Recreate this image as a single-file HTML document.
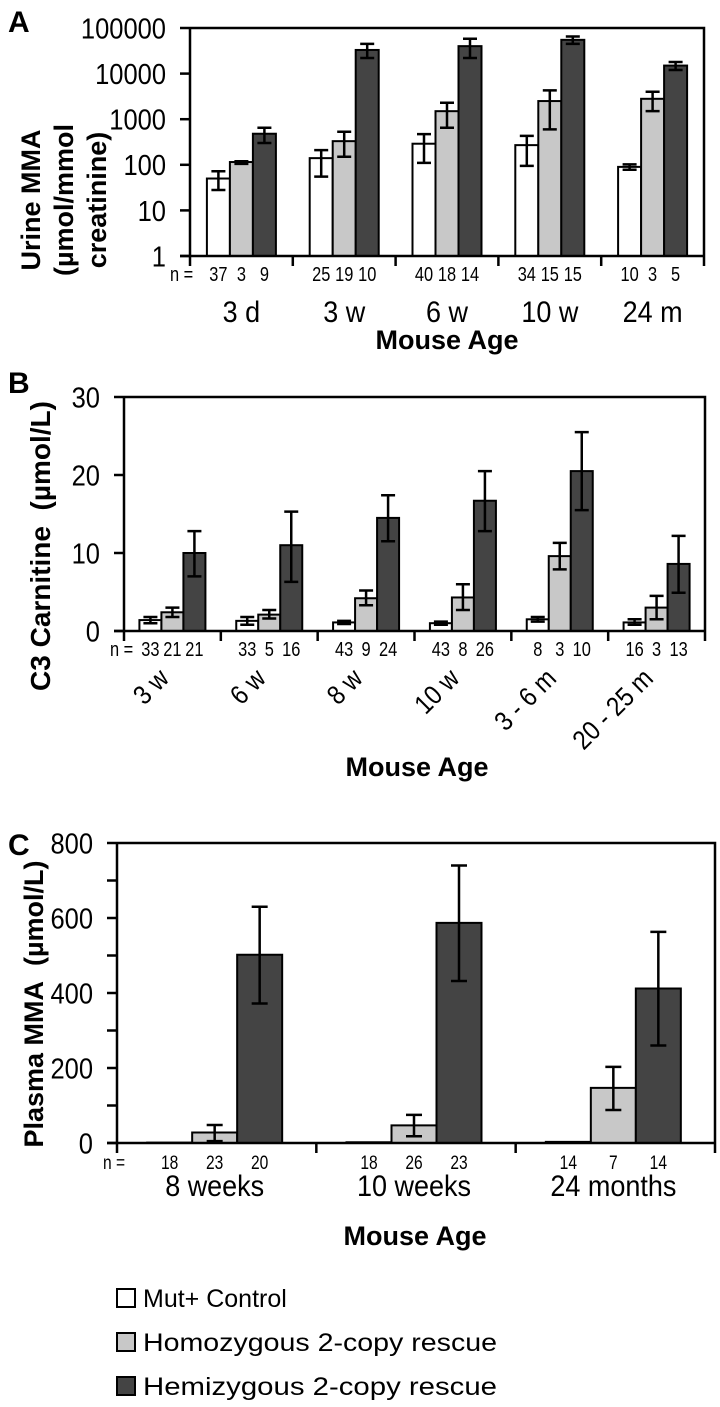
<!DOCTYPE html>
<html><head><meta charset="utf-8"><style>
html,body{margin:0;padding:0;background:#fff}
svg{display:block}
.n{font-family:"Liberation Sans",sans-serif}
.b{font-family:"Liberation Sans",sans-serif;font-weight:bold}
</style></head><body>
<svg id="fig" width="720" height="1407" viewBox="0 0 720 1407" xmlns="http://www.w3.org/2000/svg">
<g id="pa"></g>
<g id="pb"></g>
<g id="pc"></g>
<g font-family="Liberation Sans, sans-serif" font-size="25">
 <g><rect x="117" y="1289" width="18" height="18" fill="#fff" stroke="#000" stroke-width="2"/><text x="143" y="1307">Mut+ Control</text></g>
 <g><rect x="117" y="1333" width="18" height="18" fill="#c8c8c8" stroke="#000" stroke-width="2"/><text x="143" y="1351" textLength="354" lengthAdjust="spacingAndGlyphs">Homozygous 2-copy rescue</text></g>
 <g><rect x="117" y="1377" width="18" height="18" fill="#444" stroke="#000" stroke-width="2"/><text x="143" y="1395" textLength="354" lengthAdjust="spacingAndGlyphs">Hemizygous 2-copy rescue</text></g>
</g>
</svg>
<script>
const fills=['#ffffff','#c8c8c8','#444444'];
// Panel A (log scale)
const aCats=['3 d','3 w','6 w','10 w','24 m'];
const aMean=[[50,140,290,270,90],[115,330,1500,2500,2800],[480,33000,40000,55000,15000]];
const aLo=[[28,55,110,95,78],[105,150,650,600,1500],[300,22000,22000,45000,12000]];
const aHi=[[72,210,470,430,102],[120,530,2300,4300,4000],[650,45000,58000,65000,18000]];
const aN=[[37,25,40,34,10],[3,19,18,15,3],[9,10,14,15,5]];
const aTicks=[1,10,100,1000,10000,100000];
// Panel B
const bCats=['3 w','6 w','8 w','10 w','3 - 6 m','20 - 25 m'];
const bMean=[[1.4,1.3,1.1,1.0,1.5,1.1],[2.4,2.1,4.2,4.3,9.6,3.0],[10,11,14.5,16.7,20.5,8.6]];
const bLo=[[1.0,0.8,0.9,0.8,1.2,0.8],[1.8,1.6,3.3,2.7,7.9,1.5],[7,6.3,11.5,12.8,15.5,4.9]];
const bHi=[[1.8,1.8,1.3,1.2,1.8,1.5],[3.0,2.7,5.2,6.0,11.3,4.5],[12.8,15.3,17.4,20.5,25.5,12.2]];
const bN=[[33,33,43,43,8,16],[21,5,9,8,3,3],[21,16,24,26,10,13]];
const bTicks=[0,10,20,30];
// Panel C
const cCats=['8 weeks','10 weeks','24 months'];
const cMean=[[1,2,3],[28,47,147],[502,587,412]];
const cLo=[[1,2,3],[5,18,88],[372,432,260]];
const cHi=[[1,2,3],[48,75,203],[630,740,563]];
const cN=[[18,18,14],[23,26,7],[20,23,14]];
const cTicks=[0,200,400,600,800];
const cMinor=[100,300,500,700];

const NS='http://www.w3.org/2000/svg';
function mk(p,tag,at,txt){const e=document.createElementNS(NS,tag);for(const k in at)e.setAttribute(k,at[k]);if(txt!==undefined)e.textContent=txt;p.appendChild(e);return e;}
function nt(p,x,y,fs,anchor,txt,sx,rot){
  const tr=`translate(${x} ${y})`+(rot?` rotate(${rot})`:'')+` scale(${sx} 1)`;
  return mk(p,'text',{x:0,y:0,'font-size':fs,'text-anchor':anchor,class:'n',transform:tr},txt);
}

function panel(g,o){
  const {L,R,T,B,cats,mean,lo,hi,nn,ticks,y,bw,cap}=o;
  const gw=(R-L)/cats.length;
  let e;
  for(let s=0;s<3;s++)for(let i=0;i<cats.length;i++){
    const cx=L+gw*(i+0.5)+o.off; const x=cx+(s-1.5)*bw;
    const yt=y(mean[s][i]);
    e=mk(g,'rect',{x:x,y:yt,width:bw,height:Math.max(0,B-yt),fill:fills[s],stroke:'#000','stroke-width':2});
    
    
    const ex=x+bw/2, y1=y(lo[s][i]), y2=y(hi[s][i]);
    if(Math.abs(y1-y2)>0.5){
      e=mk(g,'path',{d:`M${ex} ${y1}V${y2}M${ex-cap} ${y1}H${ex+cap}M${ex-cap} ${y2}H${ex+cap}`,stroke:'#000','stroke-width':2.5,fill:'none'});
      
      
    }
    e=nt(g,ex,o.nY,o.nFs,'middle',nn[s][i],0.82);
    
    
  }
  e=mk(g,'path',{d:`M${L} ${T}H${R}V${B+10}M${L} ${T}V${B+10}M${L-10} ${B}H${R}`,stroke:'#000','stroke-width':2.5,fill:'none'});
  
  
  for(let i=1;i<cats.length;i++){const x=L+gw*i;mk(g,'line',{x1:x,x2:x,y1:B,y2:B+10,stroke:'#000','stroke-width':2.5});}
  ticks.forEach(t=>{const yy=y(t);mk(g,'line',{x1:L-10,x2:L,y1:yy,y2:yy,stroke:'#000','stroke-width':2.5});
    e=nt(g,L-24,yy+o.tFs*0.36,o.tFs,'end',t,0.88);
    
    });
  (o.minor||[]).forEach(t=>{const yy=y(t);mk(g,'line',{x1:L-10,x2:L,y1:yy,y2:yy,stroke:'#000','stroke-width':2.5});});
  cats.forEach((c,i)=>{const cx=L+gw*(i+0.5);
    if(o.rot) e=nt(g,cx-2+o.off,o.cY,o.cFs,'end',c,0.88,-45);
    else e=nt(g,cx+o.off,o.cY,o.cFs,'middle',c,0.9);
    
    });
}
const pa=document.getElementById('pa'),pb=document.getElementById('pb'),pc=document.getElementById('pc');
const aT=28,aB=256;
panel(pa,{L:190,R:704,T:aT,B:aB,cats:aCats,mean:aMean,lo:aLo,hi:aHi,nn:aN,ticks:aTicks,bw:23,cap:7,off:0,
  y:v=>aB-(Math.log10(v))*(aB-aT)/5,nY:281,nFs:20,tFs:29,cY:322,cFs:30});
const bB=631,bT=397;
panel(pb,{L:124,R:705,T:bT,B:bB,cats:bCats,mean:bMean,lo:bLo,hi:bHi,nn:bN,ticks:bTicks,bw:22,cap:7,off:0,
  y:v=>bB-v*(bB-bT)/30,nY:656,nFs:20,tFs:29,cY:680,cFs:27,rot:true});
const cB=1143,cT=843;
panel(pc,{L:117,R:715,T:cT,B:cB,cats:cCats,mean:cMean,lo:cLo,hi:cHi,nn:cN,ticks:cTicks,minor:cMinor,bw:45,cap:8,off:-2,
  y:v=>cB-v*(cB-cT)/800,nY:1169,nFs:19,tFs:29,cY:1196,cFs:30});
function t(p,at,txt,name){const e=mk(p,'text',at,txt);return e;}
t(pa,{x:8,y:32,'font-size':30,class:'b'},'A','panel-label-a');
t(pb,{x:8,y:393,'font-size':30,class:'b'},'B','panel-label-b');
t(pc,{x:8,y:855,'font-size':30,class:'b'},'C','panel-label-c');
let e0;
e0=nt(pa,170,281,20,'start','n =',0.82);


e0=nt(pb,110,656,20,'start','n =',0.82);


e0=nt(pc,103,1169,19,'start','n =',0.82);


t(pa,{x:447,y:349,'font-size':27,class:'b','text-anchor':'middle'},'Mouse Age','x-axis-title-a');
t(pb,{x:417,y:776,'font-size':27,class:'b','text-anchor':'middle'},'Mouse Age','x-axis-title-b');
t(pc,{x:415,y:1245,'font-size':27,class:'b','text-anchor':'middle'},'Mouse Age','x-axis-title-c');
const ya=t(pa,{'font-size':27,class:'b','text-anchor':'middle',transform:'translate(0 200) rotate(-90)'},'','y-axis-title-a');
[['Urine MMA',40],['(µmol/mmol',73],['creatinine)',106]].forEach(([s,x])=>{mk(ya,'tspan',{x:0,y:x},s);});
t(pb,{'font-size':28,class:'b','text-anchor':'middle',transform:'translate(50 546) rotate(-90)'},'C3 Carnitine\u00a0\u00a0(µmol/L)','y-axis-title-b');
t(pc,{'font-size':27,class:'b','text-anchor':'middle',transform:'translate(43 1004) rotate(-90)'},'Plasma MMA\u00a0\u00a0(µmol/L)','y-axis-title-c');
</script>
</body></html>
